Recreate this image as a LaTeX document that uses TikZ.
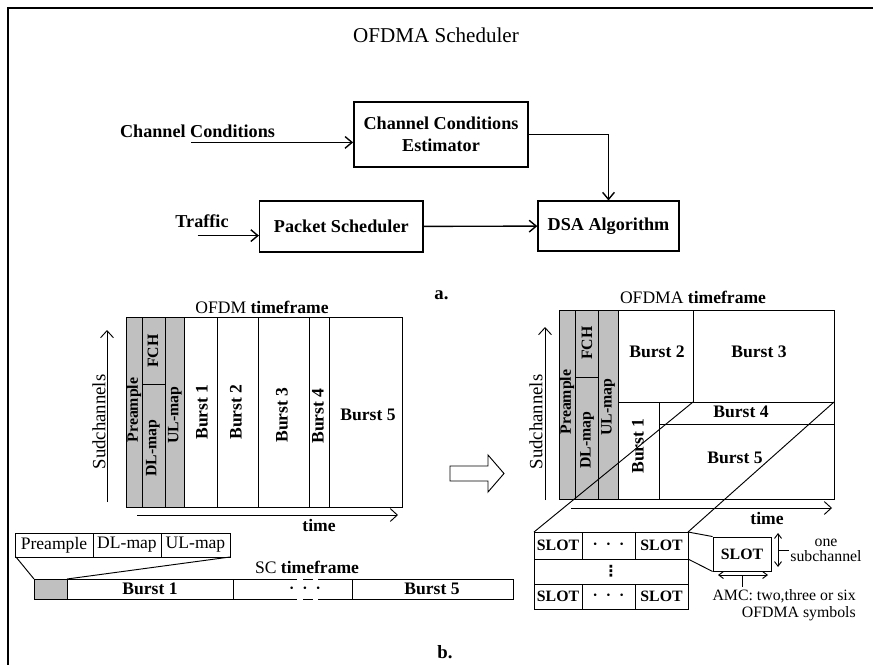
\documentclass[tikz,border=0pt]{standalone}
\usepackage{fontspec}
\setmainfont{Liberation Serif}
\newfontfamily\symfont{DejaVu Sans}
\usetikzlibrary{arrows.meta}
\definecolor{hdrgray}{HTML}{C0C0C0}

\begin{document}
\begin{tikzpicture}[x=0.03cm,y=-0.03cm,
  blk/.style={draw,line width=1.2pt,align=center,inner sep=0pt,
    font=\fontsize{15.5}{19}\selectfont\bfseries},
  edge/.style={-{Straight Barb[length=6pt,width=10pt]},line width=1.2pt},
  axis/.style={-{Straight Barb[length=6pt,width=11pt]},line width=0.8pt},
  both/.style={{Straight Barb[length=4pt,width=6pt]}-{Straight Barb[length=4pt,width=6pt]},line width=0.8pt},
  cell/.style={line width=0.8pt},
  lab/.style={font=\fontsize{15}{17}\selectfont},
  blab/.style={font=\fontsize{15}{17}\selectfont\bfseries},
  slab/.style={font=\fontsize{13.5}{15}\selectfont\bfseries},
  dots/.style={inner sep=0pt,font=\fontsize{13.5}{15}\selectfont\bfseries},
  vlab/.style={rotate=90,font=\fontsize{13.5}{15}\selectfont\bfseries}
]
  \useasboundingbox (0,0) rectangle (873,665);
  \draw[line width=1.5pt] (873,8) -- (8,8) -- (8,665);

  % a. scheduler
  \node[font=\fontsize{18}{20}\selectfont] (title) at (436,35) {OFDMA Scheduler};
  \node[blk,minimum width=5.23cm,minimum height=1.95cm] (cce) at (441,134.5) {Channel Conditions\\Estimator};
  \node[blk,minimum width=4.9cm,minimum height=1.53cm] (ps) at (341.3,226.5) {Packet Scheduler};
  \node[blk,minimum width=4.23cm,minimum height=1.49cm] (dsa) at (608.5,226) {DSA Algorithm};
  \node[font=\fontsize{15.5}{19}\selectfont\bfseries] (cc) at (197.5,131.5) {Channel Conditions};
  \node[font=\fontsize{15.5}{19}\selectfont\bfseries] (traffic) at (202,221.5) {Traffic};
  \coordinate (ccin) at (191,142.4);
  \coordinate (trin) at (197.6,235.6);
  \node[font=\fontsize{16}{18}\selectfont\bfseries] (alabel) at (441.5,295) {a.};

  \draw[edge] (ccin) -- (ccin -| cce.west);
  \draw[edge] (cce.east) -| (dsa.north);
  \draw[edge] (trin) -- (trin -| ps.west);
  \draw[edge] (ps) -- (dsa);

  % b. OFDM frame
  \node[lab] (ofdmtf) at (262,307) {OFDM \textbf{timeframe}};
  \fill[hdrgray] (126,317) rectangle (184,507);
  \draw[cell] (126,317) rectangle (402,507);
  \foreach \x in {142,165,184,217,258,309,329}
    \draw[cell] (\x,317) -- (\x,507);
  \draw[cell] (142,384) -- (165,384);
  \node[vlab] (pre1) at (134,410) {Preample};
  \node[vlab] (fch1) at (153,351) {FCH};
  \node[vlab] (dl1) at (153,448) {DL-map};
  \node[vlab] (ul1) at (175,415) {UL-map};
  \node[blab,rotate=90] (b11) at (202,412) {Burst 1};
  \node[blab,rotate=90] (b12) at (236,412) {Burst 2};
  \node[blab,rotate=90] (b13) at (282,415) {Burst 3};
  \node[blab,rotate=90] (b14) at (318,416) {Burst 4};
  \node[blab] (b15) at (368,415) {Burst 5};
  \coordinate (sc1a) at (107,502);
  \coordinate (sc1b) at (107,330);
  \draw[axis] (sc1a) -- (sc1b);
  \node[font=\fontsize{16}{18}\selectfont,rotate=90] (sub1) at (99,422) {Sudchannels};
  \coordinate (t1a) at (137,515);
  \coordinate (t1b) at (398,515);
  \draw[axis] (t1a) -- (t1b);
  \node[blab] (time1) at (319,525) {time};

  % SC frame
  \draw[cell] (15,533) rectangle (230,557);
  \draw[cell] (93,533) -- (93,557) (161,533) -- (161,557);
  \node[lab] (prehdr) at (54,545) {Preample};
  \node[lab] (dlhdr) at (127,545) {DL-map};
  \node[lab] (ulhdr) at (195.5,545) {UL-map};
  \node[lab,inner sep=0pt] (sctf) at (307,567) {SC \textbf{timeframe}};
  \fill[hdrgray] (34,579) rectangle (67,599);
  \draw[cell] (288,579) -- (34,579) -- (34,599) -- (288,599);
  \draw[cell] (325,579) -- (513,579) -- (513,599) -- (325,599);
  \draw[cell,dash pattern=on 8pt off 5pt] (288,579) -- (325,579) (288,599) -- (325,599);
  \foreach \x in {67,233,352}
    \draw[cell] (\x,579) -- (\x,599);
  \draw[cell] (16,557) -- (34,579) (230,557) -- (67,579);
  \node[blab] (scb1) at (150,589) {Burst 1};
  \node[dots] (scdots) at (305,590) {·\ \ ·\ \ ·};
  \node[blab] (scb5) at (432,589) {Burst 5};

  \draw[line width=0.8pt] (450,466) -- (488,466) -- (488,455) -- (504,473.5)
    -- (488,492) -- (488,481) -- (450,481) -- cycle;

  % b. OFDMA frame
  \node[lab] (ofdmatf) at (693,297) {OFDMA \textbf{timeframe}};
  \fill[hdrgray] (559,310) rectangle (618,499);
  \draw[cell] (559,310) rectangle (834,499);
  \foreach \x in {575,598,618}
    \draw[cell] (\x,310) -- (\x,499);
  \draw[cell] (575,377) -- (598,377);
  \draw[cell] (693,310) -- (693,402) (618,402) -- (834,402)
    (659,402) -- (659,499) (659,424) -- (834,424);
  \node[vlab] (pre2) at (567,402) {Preample};
  \node[vlab] (fch2) at (587,343) {FCH};
  \node[vlab] (dl2) at (587,440) {DL-map};
  \node[vlab] (ul2) at (608,407) {UL-map};
  \node[blab,rotate=90] (b21) at (638,446) {Burst 1};
  \node[blab] (b22) at (657,352) {Burst 2};
  \node[blab] (b23) at (759,352) {Burst 3};
  \node[blab] (b24) at (741,412) {Burst 4};
  \node[blab] (b25) at (735,458) {Burst 5};
  \coordinate (sc2a) at (545,500);
  \coordinate (sc2b) at (545,327);
  \draw[axis] (sc2a) -- (sc2b);
  \node[font=\fontsize{16}{18}\selectfont,rotate=90] (sub2) at (536,422) {Sudchannels};
  \coordinate (t2a) at (571,508);
  \coordinate (t2b) at (832,508);
  \draw[axis] (t2a) -- (t2b);
  \node[blab] (time2) at (767,518) {time};

  % slot grid
  \coordinate (gnw) at (534,532);
  \coordinate (gne) at (688,532);
  \coordinate (gme) at (688,559);
  \coordinate (b2corner) at (693,402);
  \coordinate (b4corner) at (834,402);
  \draw[cell] (gnw) rectangle (688,609);
  \draw[cell] (534,559) -- (688,559) (534,584) -- (688,584);
  \draw[cell] (582,532) -- (582,559) (635,532) -- (635,559)
    (582,584) -- (582,609) (635,584) -- (635,609);
  \draw[cell] (b2corner) -- (gnw) (b4corner) -- (gne);
  \node[slab] (s11) at (558,545.5) {SLOT};
  \node[dots] (s12) at (608.5,546) {·\ \ ·\ \ ·};
  \node[slab] (s13) at (661.5,545.5) {SLOT};
  \node[dots,font=\fontsize{13}{15}\symfont\bfseries] (s21) at (611,571.5) {⋮};
  \node[slab] (s31) at (558,596.5) {SLOT};
  \node[dots] (s32) at (608.5,597) {·\ \ ·\ \ ·};
  \node[slab] (s33) at (661.5,596.5) {SLOT};

  \node[draw,cell,slab,minimum width=1.74cm,minimum height=1.02cm] (slotone) at (742,554) {SLOT};
  \draw[cell] (gne) -- (slotone.north west) (gme) -- (slotone.south west);
  \coordinate (sva) at (778,533);
  \coordinate (svb) at (778,567);
  \coordinate (svm) at (778,550);
  \coordinate (svt) at (789,550);
  \draw[both] (sva) -- (svb);
  \draw[cell] (svm) -- (svt);
  \coordinate (sha) at (718,575);
  \coordinate (shb) at (768,575);
  \coordinate (shm) at (742,575);
  \coordinate (sht) at (742,587);
  \draw[both] (sha) -- (shb);
  \draw[cell] (shm) -- (sht);
  \node[font=\fontsize{13.5}{12.8}\selectfont,align=center] (onesub) at (826,550) {one\\subchannel};
  \node[font=\fontsize{13.5}{14.5}\selectfont,align=right,anchor=east,inner sep=0pt] (amc) at (856,605.5) {AMC: two,three or six\\OFDMA symbols};

  \node[font=\fontsize{16}{18}\selectfont\bfseries] (blabel) at (445,652) {b.};
\end{tikzpicture}
\end{document}
